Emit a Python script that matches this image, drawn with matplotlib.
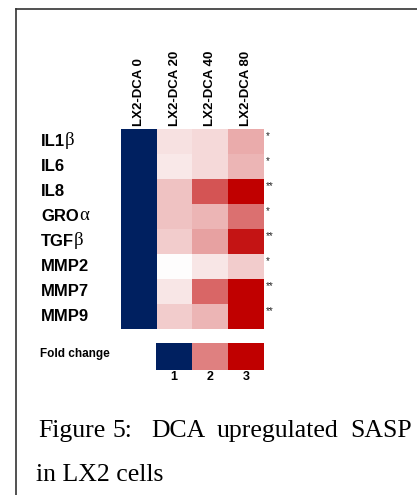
import numpy as np
import matplotlib
matplotlib.use("Agg")
import matplotlib.pyplot as plt
from matplotlib.colors import LinearSegmentedColormap, Normalize
from matplotlib.lines import Line2D
from matplotlib import transforms

# data (fold change vs LX2-DCA 0)
genes = ['IL1β', 'IL6', 'IL8', 'GROα', 'TGFβ', 'MMP2', 'MMP7', 'MMP9']
conditions = ['LX2-DCA 0', 'LX2-DCA 20', 'LX2-DCA 40', 'LX2-DCA 80']
fold_change = [
    [1.0, 1.24, 1.30, 1.66],
    [1.0, 1.18, 1.30, 1.58],
    [1.0, 1.48, 2.34, 3.00],
    [1.0, 1.48, 1.58, 2.12],
    [1.0, 1.40, 1.74, 2.84],
    [1.0, 1.02, 1.20, 1.40],
    [1.0, 1.20, 2.20, 3.00],
    [1.0, 1.40, 1.58, 3.00],
]
signif = ['*', '*', '**', '*', '**', '*', '**', '**']
legend_vals = [1, 2, 3]
caption_1 = 'Figure 5: DCA upregulated SASP'
caption_2 = 'in LX2 cells'

W, H = 417, 495
fig = plt.figure(figsize=(W / 100, H / 100), dpi=100)


def fx(x):
    return x / W


def fy(y):
    return 1 - y / H


# colour scale: baseline (1) in navy, then white -> dark red
cmap = LinearSegmentedColormap.from_list('fc', ['#ffffff', '#c00000'])
cmap.set_under('#002060')
norm = Normalize(vmin=1.0001, vmax=3)

SANS = 'Liberation Sans'
SERIF = 'Liberation Serif'

# heatmap
ax = fig.add_axes([fx(121), fy(329), fx(264) - fx(121), fy(129) - fy(329)])
ax.imshow(np.array(fold_change), cmap=cmap, norm=norm, aspect='auto',
          interpolation='nearest')
ax.set_axis_off()

# column labels
tr_col = transforms.blended_transform_factory(ax.transData, fig.transFigure)
for j, c in enumerate(conditions):
    ax.text(j, fy(126.5), c, rotation=90, ha='center', va='bottom',
            fontsize=9.5, fontweight='bold', family=SANS, transform=tr_col)

# row labels, greek letters in a serif face like the original
tr_row = transforms.blended_transform_factory(fig.transFigure, ax.transData)
for i, g in enumerate(genes):
    if g[-1] in 'αβ':
        t = ax.text(fx(41), i, g[:-1], ha='left', va='center', fontsize=12,
                    fontweight='bold', family=SANS, transform=tr_row)
        ax.annotate(g[-1], xy=(1, 0), xycoords=t, ha='left', va='bottom',
                    fontsize=13.5, family=SERIF)
    else:
        ax.text(fx(41), i, g, ha='left', va='center', fontsize=12,
                fontweight='bold', family=SANS, transform=tr_row)
    ax.text(fx(266), i - 0.2, signif[i], ha='left', va='center', fontsize=7,
            family=SANS, color='#222222', transform=tr_row)

# legend bar
lax = fig.add_axes([fx(156), fy(370), fx(264) - fx(156), fy(343) - fy(370)])
lax.imshow(np.array([legend_vals], dtype=float), cmap=cmap, norm=norm,
           aspect='auto', interpolation='nearest')
lax.set_axis_off()
tr_leg = transforms.blended_transform_factory(lax.transData, fig.transFigure)
for k, v in enumerate(legend_vals):
    lax.text(k, fy(377), str(v), ha='center', va='center', fontsize=9,
             fontweight='bold', family=SANS, transform=tr_leg)
fig.text(fx(40), fy(353.5), 'Fold change', ha='left', va='center',
         fontsize=8.5, fontweight='bold', family=SANS)

# caption (justified line, so words placed one by one)
word_x = [38, 113, 151, 217, 350]
for wx, w in zip(word_x, caption_1.split()):
    fig.text(fx(wx), fy(437), w, ha='left', va='baseline', fontsize=18.5,
             family=SERIF)
fig.text(fx(36), fy(481), caption_2, ha='left', va='baseline', fontsize=18.5,
         family=SERIF)

# frame around the figure
fig.add_artist(Line2D([fx(16), fx(420)], [fy(9), fy(9)], color='#333333',
                      lw=1.2, transform=fig.transFigure))
fig.add_artist(Line2D([fx(16), fx(16)], [fy(9), fy(500)], color='#333333',
                      lw=1.2, transform=fig.transFigure))

fig.savefig('out.png', dpi=100)
